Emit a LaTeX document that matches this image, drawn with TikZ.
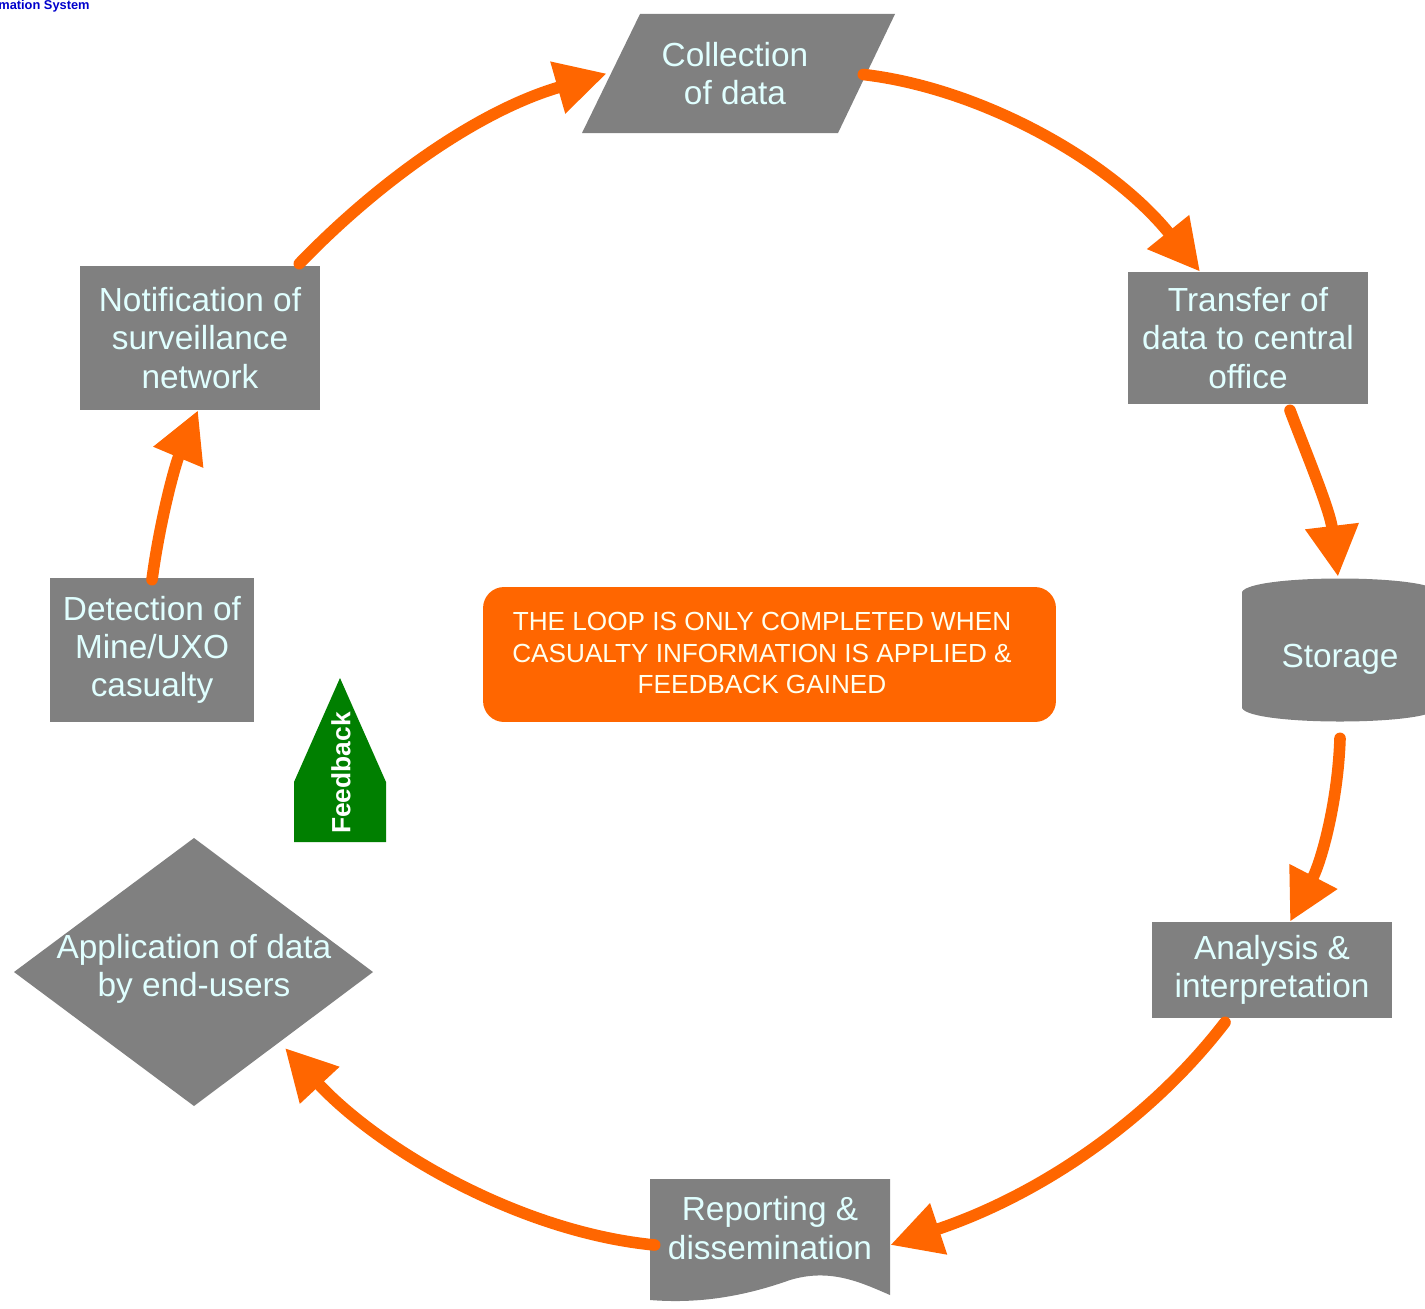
\documentclass[tikz,border=0pt]{standalone}
\usepackage{fontspec}
\setmainfont{Liberation Sans}
\usetikzlibrary{arrows.meta}
\definecolor{shapegray}{HTML}{808080}
\definecolor{lcyan}{HTML}{E0FFFF}
\definecolor{loopor}{HTML}{FF6600}
\definecolor{fbgreen}{HTML}{007F00}
\definecolor{lightyel}{HTML}{FFFFEE}
\definecolor{titleblue}{HTML}{0000CC}
\tikzset{
  x=0.02cm, y=-0.02cm,
  stepbox/.style={fill=shapegray, text=lcyan, align=center, inner sep=0pt,
    font=\fontsize{19}{21.8}\selectfont},
  shapetext/.style={text=lcyan, align=center, inner sep=0pt,
    font=\fontsize{19}{21.8}\selectfont},
  conn/.style={draw=loopor, line width=6.6pt, line cap=round,
    -{Triangle[length=29pt,width=29pt]}},
}
\begin{document}
\begin{tikzpicture}
\useasboundingbox (0,0) rectangle (1425,1308);
\fill[white] (0,0) rectangle (1425,1308);

% title fragment
\node[anchor=west, inner sep=0pt, text=titleblue, font=\fontsize{7.3}{8}\selectfont\bfseries] (title) at (-2,6) {mation System};

% shape fills
\fill[shapegray] (640,14) -- (895,14) -- (838,133) -- (582,133) -- cycle;
\fill[shapegray] (1242,592) .. controls (1250,574) and (1430,574) .. (1438,592)
   -- (1438,708) .. controls (1430,726) and (1250,726) .. (1242,708) -- cycle;
\fill[shapegray] (650,1179) -- (890,1179) -- (890,1295)
   .. controls (860,1282) and (830,1268) .. (790,1280)
   .. controls (745,1296) and (700,1304) .. (650,1300) -- cycle;
\fill[shapegray] (14,972) -- (194,838) -- (373,972) -- (194,1106) -- cycle;
\fill[fbgreen] (294,842) -- (294,782) -- (340,678) -- (386,782) -- (386,842) -- cycle;

% nodes
\node[stepbox, minimum width=4.8cm, minimum height=2.88cm] (notif) at (200,338)
  {Notification of\\surveillance\\network};
\node[shapetext, minimum width=5.12cm, minimum height=2.38cm] (coll) at (735,73.5)
  {Collection\\of data};
\node[stepbox, minimum width=4.8cm, minimum height=2.64cm] (trans) at (1248,338)
  {Transfer of\\data to central\\office};
\node[shapetext, minimum width=3.92cm, minimum height=2.88cm] (stor) at (1340,650) {};
\node[shapetext] (stortext) at (1340,659) {Storage};
\node[stepbox, minimum width=4.8cm, minimum height=1.92cm] (anal) at (1272,970)
  {Analysis \&\\interpretation};
\node[shapetext, minimum width=4.8cm, minimum height=1.3cm] (rep) at (770,1228)
  {Reporting \&\\dissemination};
\node[shapetext, minimum width=7.18cm, minimum height=5.36cm] (app) at (194,969)
  {Application of data\\by end-users};
\node[stepbox, minimum width=4.08cm, minimum height=2.88cm] (det) at (152,650)
  {Detection of\\Mine/UXO\\casualty};
\node[rotate=90, text=white, inner sep=0pt, font=\fontsize{15}{17}\selectfont\bfseries] (fb) at (341,773) {Feedback};
\node[fill=loopor, rounded corners=0.42cm, minimum width=11.46cm, minimum height=2.7cm,
  inner sep=0pt] (loop) at (769.5,654.5) {};
\node[text=lightyel, align=center, inner sep=0pt, font=\fontsize{14.9}{18}\selectfont] (looptext) at (762,653)
  {THE LOOP IS ONLY COMPLETED WHEN\\CASUALTY INFORMATION IS APPLIED \&\\FEEDBACK GAINED};

% connectors
\draw[conn] ([xshift=-0.42cm,yshift=0.04cm]notif.north east) .. controls (380,180) and (480,110) .. (coll.west);
\draw[conn] ([yshift=-0.02cm]coll.east) .. controls (980,88) and (1110,160) .. ([xshift=-0.96cm]trans.north);
\draw[conn] ([xshift=0.84cm,yshift=-0.12cm]trans.south) .. controls (1305,450) and (1330,510) .. ([xshift=-0.04cm,yshift=0.02cm]stor.north);
\draw[conn] ([yshift=-0.32cm]stor.south) .. controls (1338,800) and (1322,860) .. ([xshift=0.36cm]anal.north);
\draw[conn] ([xshift=-0.94cm,yshift=-0.08cm]anal.south) .. controls (1150,1120) and (1040,1195) .. ([yshift=-0.34cm]rep.east);
\draw[conn] ([xshift=0.1cm,yshift=-0.34cm]rep.west) .. controls (520,1232) and (380,1150) .. (285,1048);
\draw[conn] ([yshift=-0.04cm]det.north) .. controls (160,520) and (175,465) .. ([xshift=-0.04cm]notif.south);
\end{tikzpicture}
\end{document}
